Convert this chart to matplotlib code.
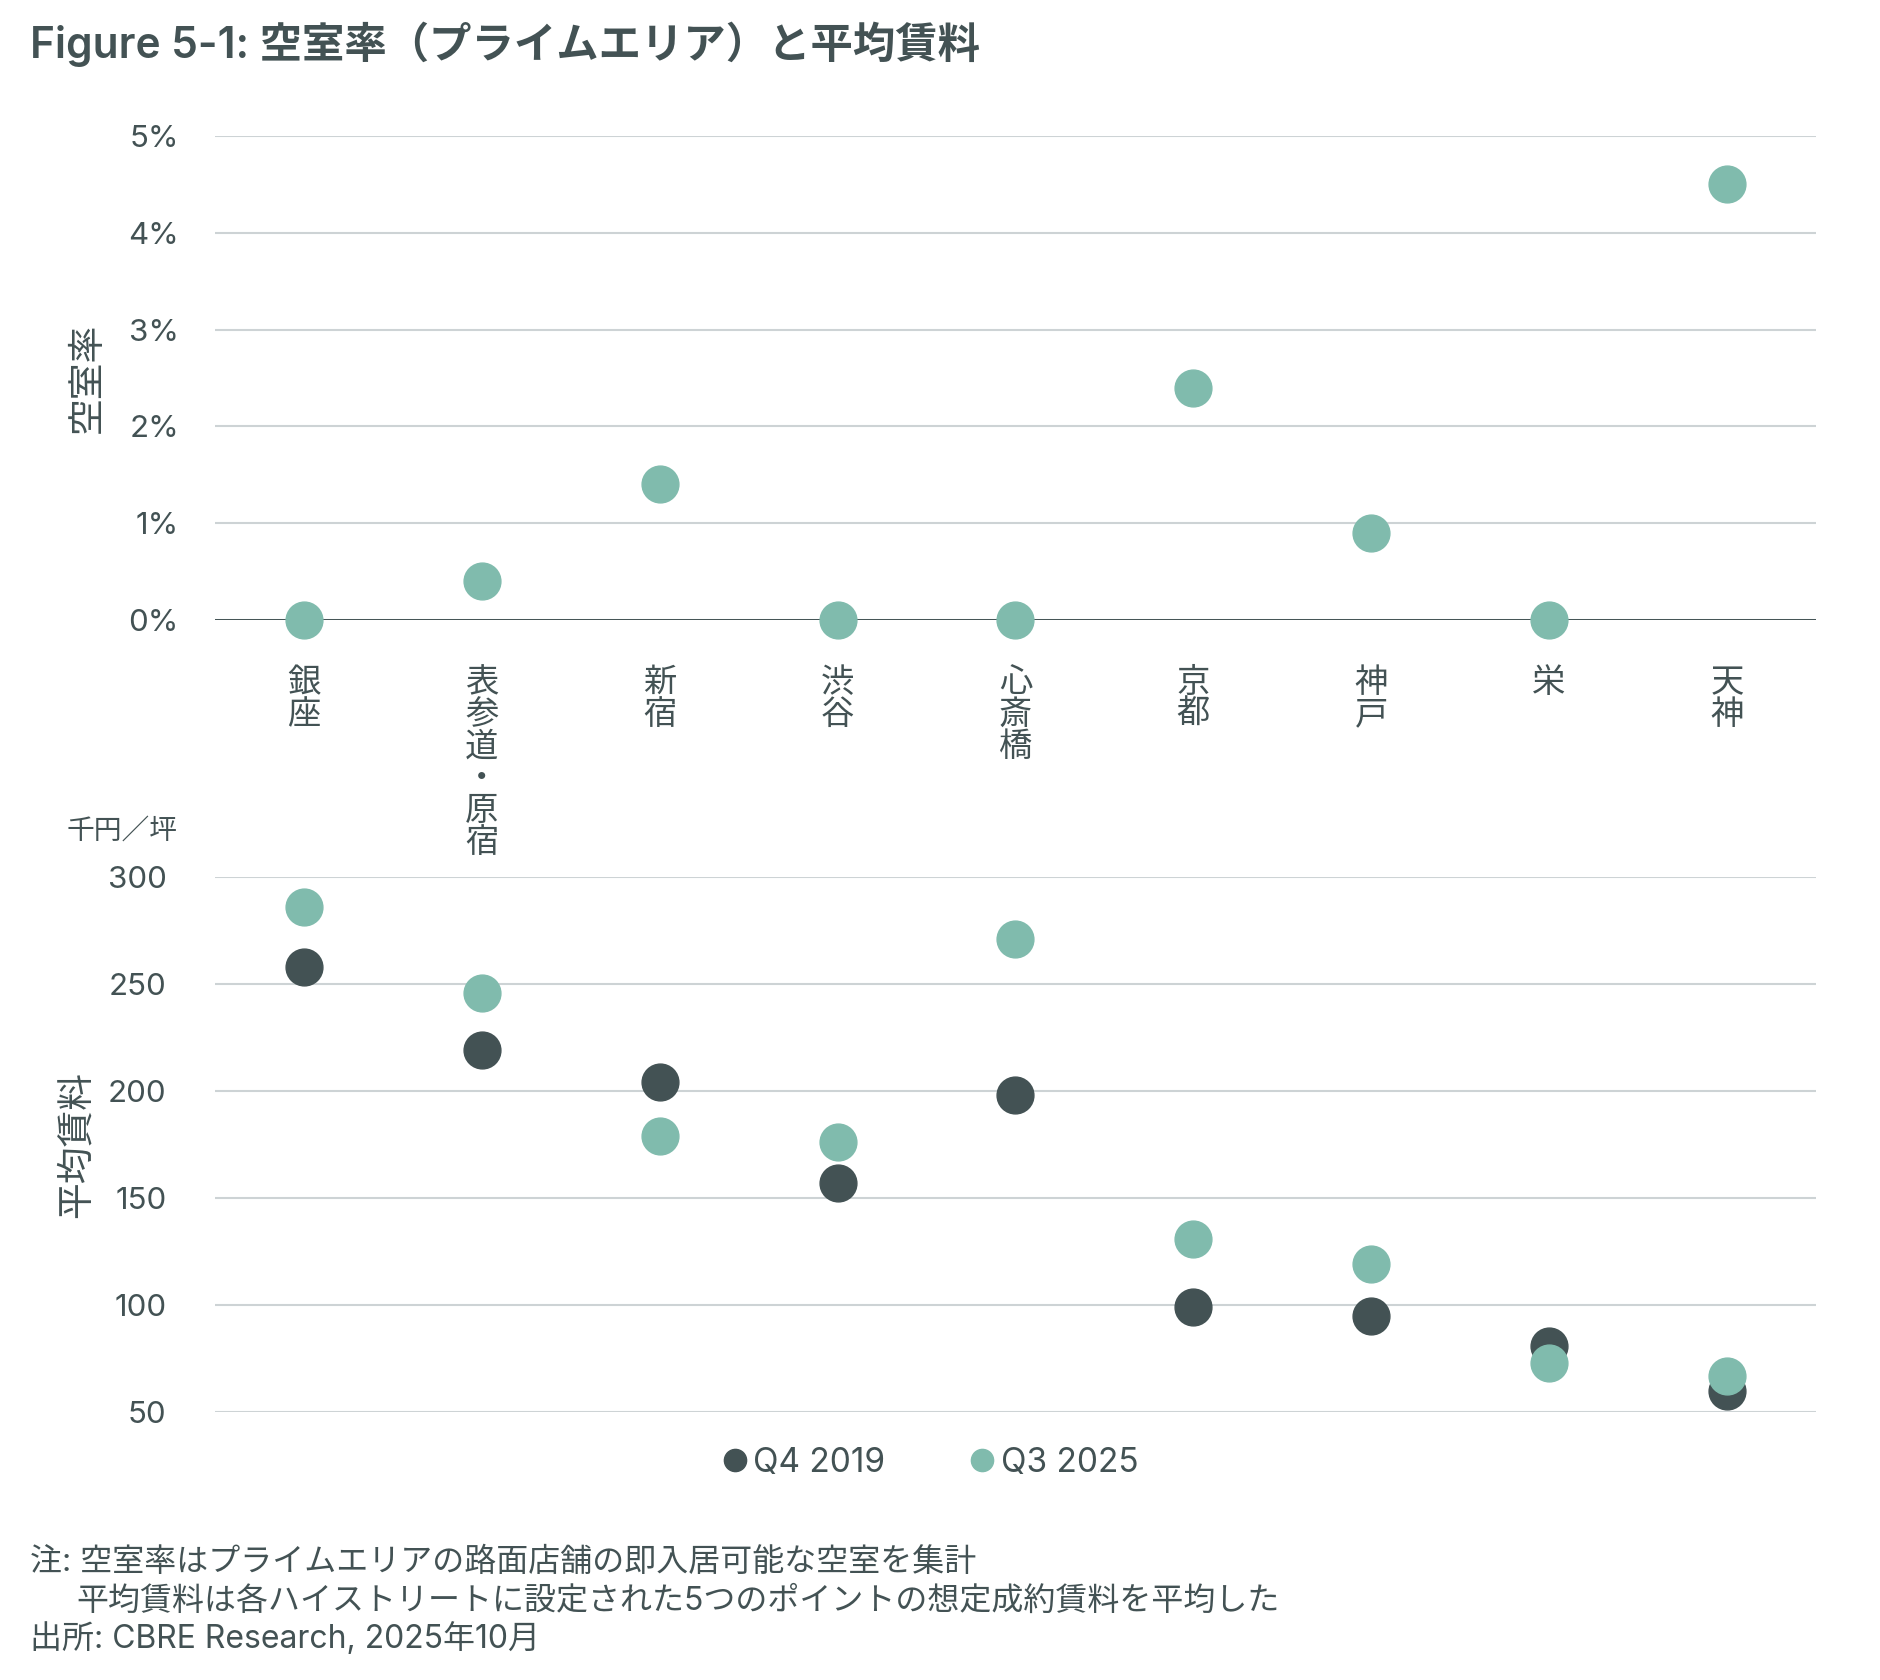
import numpy as np
import matplotlib.pyplot as plt
from matplotlib.ticker import PercentFormatter
from matplotlib.lines import Line2D

plt.rcParams['font.family'] = ['Inter', 'Noto Sans CJK JP']

DARK = '#435254'
TEAL = '#80BBAD'
GRID = '#CDD3D5'

areas = ['銀座', '表参道・原宿', '新宿', '渋谷', '心斎橋', '京都', '神戸', '栄', '天神']
vacancy_q3_2025 = [0.0, 0.4, 1.4, 0.0, 0.0, 2.4, 0.9, 0.0, 4.5]
rent_q4_2019 = [258, 219, 204, 157, 198, 99, 95, 81, 60]
rent_q3_2025 = [286, 246, 179, 176, 271, 131, 119, 73, 67]
vac_ticks = [0, 1, 2, 3, 4, 5]
rent_ticks = [50, 100, 150, 200, 250, 300]

x = np.arange(len(areas))

fig = plt.figure(figsize=(18.81, 16.80), dpi=100)
ax1 = fig.add_axes([0.1143, 0.6310, 0.8511, 0.2881])
ax2 = fig.add_axes([0.1143, 0.1595, 0.8511, 0.3185])

for ax in (ax1, ax2):
    for s in ax.spines.values():
        s.set_visible(False)
    ax.set_xlim(-0.5, len(areas) - 0.5)
    ax.tick_params(length=0, colors=DARK, labelsize=22.5)
    ax.grid(axis='y', color=GRID, linewidth=1.5)
    ax.set_axisbelow(True)

# top: vacancy
ax1.set_ylim(0, 5)
ax1.set_yticks(vac_ticks)
ax1.yaxis.set_major_formatter(PercentFormatter(decimals=0))
ax1.tick_params(axis='y', pad=26)
ax1.axhline(0, color=DARK, linewidth=1.4, zorder=1)
ax1.plot(x, vacancy_q3_2025, 'o', color=TEAL, markersize=26.5, clip_on=False, zorder=3)
ax1.set_xticks(x)
ax1.set_xticklabels(['\n'.join(a) for a in areas],
                    fontsize=24, linespacing=1.0, va='top')
ax1.tick_params(axis='x', pad=34)
ax1.set_ylabel('空室率', fontsize=26.5, color=DARK)
ax1.yaxis.set_label_coords(-0.069, 0.5)

# bottom: rent
ax2.set_ylim(50, 300)
ax2.set_yticks(rent_ticks)
ax2.set_xticks([])
ax2.tick_params(axis='y', pad=35)
ax2.plot(x, rent_q4_2019, 'o', color=DARK, markersize=26.5, clip_on=False, zorder=3)
ax2.plot(x, rent_q3_2025, 'o', color=TEAL, markersize=26.5, clip_on=False, zorder=4)
ax2.set_ylabel('平均賃料', fontsize=26.5, color=DARK)
ax2.yaxis.set_label_coords(-0.076, 0.5)
fig.text(178 / 1881, 1 - 832 / 1680, '千円／坪', fontsize=20, color=DARK,
         ha='right', va='center')

handles = [Line2D([], [], marker='o', linestyle='none', color=DARK, markersize=16),
           Line2D([], [], marker='o', linestyle='none', color=TEAL, markersize=16)]
leg = fig.legend(handles, ['Q4 2019', 'Q3 2025'], loc='center',
                 bbox_to_anchor=(930 / 1881, 1 - 1463 / 1680), ncol=2, frameon=False,
                 fontsize=24, handletextpad=0.15, columnspacing=2.5, handlelength=0.8)
for t in leg.get_texts():
    t.set_color(DARK)

fig.text(30 / 1881, 1 - 44 / 1680, 'Figure 5-1: 空室率（プライムエリア）と平均賃料',
         fontsize=30.5, fontweight='semibold', color=DARK, ha='left', va='center')

fig.text(30 / 1881, 1 - 1562 / 1680, '注: 空室率はプライムエリアの路面店舗の即入居可能な空室を集計',
         fontsize=23, color=DARK, ha='left', va='center')
fig.text(76 / 1881, 1 - 1601 / 1680, '平均賃料は各ハイストリートに設定された5つのポイントの想定成約賃料を平均した',
         fontsize=23, color=DARK, ha='left', va='center')
fig.text(30 / 1881, 1 - 1639 / 1680, '出所: CBRE Research, 2025年10月',
         fontsize=23, color=DARK, ha='left', va='center')

fig.savefig('out.png', dpi=100, facecolor='white')
